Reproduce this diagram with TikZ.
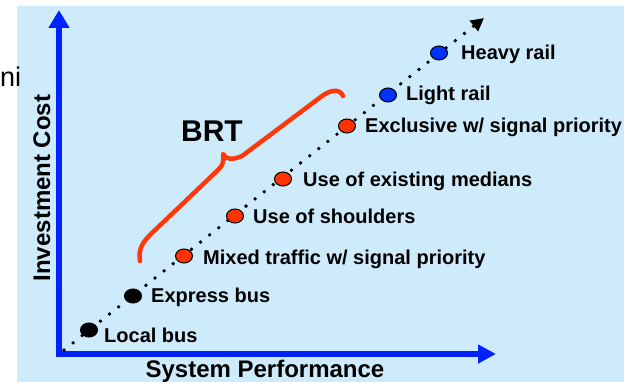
\documentclass[tikz,border=0pt]{standalone}
\usepackage{fontspec}
\setmainfont{Liberation Sans}
\usetikzlibrary{arrows.meta,shapes.geometric}
\definecolor{bgblue}{RGB}{206,235,252}
\definecolor{axisblue}{RGB}{0,34,255}
\definecolor{brred}{RGB}{255,56,10}
\definecolor{dotred}{RGB}{255,51,0}
\definecolor{dotblue}{RGB}{0,51,255}
\tikzset{
  axis/.style={draw=axisblue, line width=6pt, line join=miter},
  dotline/.style={line width=3.8pt, line cap=round, dash pattern=on 0pt off 11.6pt},
  stopdot/.style={ellipse, draw=black, line width=1pt, minimum width=17pt, minimum height=14pt, inner sep=0pt},
  lbl/.style={anchor=base west, inner sep=0pt, font=\bfseries\fontsize{20}{22}\selectfont},
  axlbl/.style={anchor=base, inner sep=0pt, font=\bfseries\fontsize{24}{26}\selectfont},
}
\begin{document}
\begin{tikzpicture}[x=1pt,y=-1pt]
\useasboundingbox (0,0) rectangle (624,382);
\fill[bgblue] (17,6) rectangle (624,382);
\node[anchor=base west, inner sep=0pt, font=\fontsize{27}{29}\selectfont] (ni) at (0,87) {ni};
% axes
\coordinate (origin) at (59,354);
\coordinate (ytip) at (59,10);
\coordinate (xtip) at (496,354);
\draw[axis, {Triangle[length=18pt,width=20pt]}-{Triangle[length=18pt,width=18pt]}] (ytip) -- (origin) -- (xtip);
% dotted trend line
\coordinate (dstart) at (64,350);
\coordinate (dend) at (484,18);
\draw[dotline, -{Triangle[length=13pt,width=13pt]}] (dstart) -- (dend);
% stops
\node[stopdot, fill=black] (local) at (89,330) {};
\node[stopdot, fill=black] (express) at (133,296) {};
\node[stopdot, fill=dotred] (mixed) at (184,256) {};
\node[stopdot, fill=dotred] (shoulders) at (235,216) {};
\node[stopdot, fill=dotred] (medians) at (283,179) {};
\node[stopdot, fill=dotred] (exclusive) at (347,126) {};
\node[stopdot, fill=dotblue] (light) at (388,95) {};
\node[stopdot, fill=dotblue] (heavy) at (439,53) {};
% labels
\node[lbl] (llocal) at (104,342) {Local bus};
\node[lbl] (lexpress) at (151,302) {Express bus};
\node[lbl] (lmixed) at (203,265) {Mixed traffic w/ signal priority};
\node[lbl] (lshoulders) at (253,224) {Use of shoulders};
\node[lbl] (lmedians) at (303,187) {Use of existing medians};
\node[lbl] (lexclusive) at (365,133) {Exclusive w/ signal priority};
\node[lbl] (llight) at (406,101) {Light rail};
\node[lbl] (lheavy) at (461,60) {Heavy rail};
% BRT brace
\draw[brred, line width=4.5pt, line cap=round, line join=round]
  (140,261) .. controls (138,248) and (143,242) .. (152,233)
  -- (218,170) .. controls (224,164) and (224,160) .. (223,154)
  .. controls (226,160) and (233,160) .. (242,156)
  -- (322,96) .. controls (332,89) and (340,89) .. (343,96);
\node[anchor=base, inner sep=0pt, font=\bfseries\fontsize{30}{32}\selectfont] (brt) at (212,142) {BRT};
% axis labels
\node[axlbl] (xlabel) at (265,377) {System Performance};
\node[axlbl, rotate=90] (ylabel) at (50,188) {Investment Cost};
\end{tikzpicture}
\end{document}
